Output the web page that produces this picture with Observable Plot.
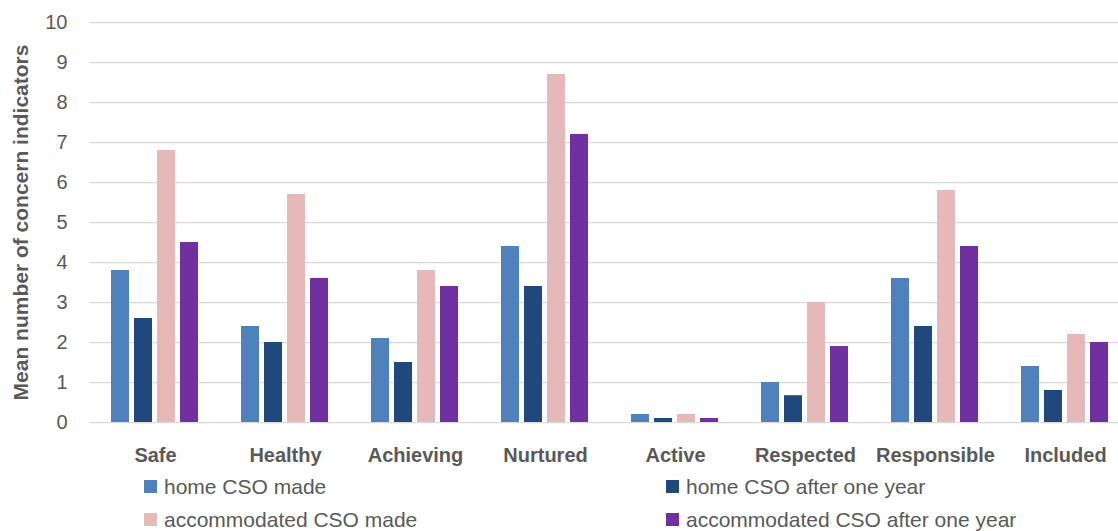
<!DOCTYPE html>
<html>
<head>
<meta charset="utf-8">
<script src="https://cdn.jsdelivr.net/npm/d3@7"></script>
<script src="https://cdn.jsdelivr.net/npm/@observablehq/plot@0.6"></script>
<style>
  html, body { margin: 0; padding: 0; background: #fff; }
  #chart { width: 1118px; overflow: hidden; }
  #legend {
    display: grid;
    grid-template-columns: 522px auto;
    padding-left: 144px;
    font-family: "Liberation Sans", Arial, sans-serif;
    font-size: 21px;
    line-height: 33px;
    color: #595959;
  }
  .item { display: flex; align-items: center; white-space: nowrap; }
  .swatch { width: 13px; height: 13px; margin-right: 7px; flex: none; }
</style>
</head>
<body>
<div id="chart"></div>
<div id="legend"></div>
<script>
// Well-being indicator areas
const categories = ["Safe", "Healthy", "Achieving", "Nurtured", "Active", "Respected", "Responsible", "Included"];

// Series names and colours
const series = ["home CSO made", "home CSO after one year", "accommodated CSO made", "accommodated CSO after one year"];
const colors = ["#4F81BD", "#1F497D", "#E6B9B8", "#7030A0"];

// Mean number of concern indicators, one value per area
const homeMade       = [3.8, 2.4, 2.1, 4.4, 0.2, 1.0, 3.6, 1.4];
const homeAfter      = [2.6, 2.0, 1.5, 3.4, 0.1, 0.67, 2.4, 0.8];
const accomMade      = [6.8, 5.7, 3.8, 8.7, 0.2, 3.0, 5.8, 2.2];
const accomAfter     = [4.5, 3.6, 3.4, 7.2, 0.1, 1.9, 4.4, 2.0];

// Y axis ticks
const yTicks = [0, 1, 2, 3, 4, 5, 6, 7, 8, 9, 10];
const yLabel = "Mean number of concern indicators";

const seriesValues = [homeMade, homeAfter, accomMade, accomAfter];
const data = categories.flatMap((c, i) =>
  series.map((s, j) => ({category: c, series: s, value: seriesValues[j][i]}))
);

const textColor = "#595959";

const chart = Plot.plot({
  width: 1118,
  height: 470,
  marginLeft: 90,
  marginRight: -12,
  marginTop: 22,
  marginBottom: 48,
  style: {fontFamily: "'Liberation Sans', Arial, sans-serif", fontSize: "20px", color: textColor, background: "#fff"},
  fx: {domain: categories, padding: 0, label: null},
  x: {domain: series, paddingInner: 0.212, paddingOuter: 0.86, axis: null},
  y: {domain: [0, 10], label: null},
  color: {domain: series, range: colors},
  marks: [
    Plot.gridY(yTicks, {stroke: "#D9D9D9", strokeOpacity: 1, strokeWidth: 1.25}),
    // tick values
    Plot.axisY(yTicks, {tickSize: 0, tickPadding: 23, fontSize: 20, fill: textColor, label: null}),
    // bold axis title
    Plot.axisY([], {
      tickSize: 0, fontSize: 21, fontWeight: "bold", fill: textColor,
      label: yLabel, labelAnchor: "center", labelOffset: 77, labelArrow: "none"
    }),
    Plot.axisFx({anchor: "bottom", tickSize: 0, tickPadding: 25, fontSize: 20, fontWeight: "bold", fill: textColor, label: null}),
    Plot.barY(data, {fx: "category", x: "series", y: "value", fill: "series"})
  ]
});
document.getElementById("chart").appendChild(chart);

// Legend in two columns below the chart
const legend = d3.select("#legend");
series.forEach((s, i) => {
  const item = legend.append("div").attr("class", "item");
  item.append("span").attr("class", "swatch").style("background", colors[i]);
  item.append("span").text(s);
});
</script>
</body>
</html>
